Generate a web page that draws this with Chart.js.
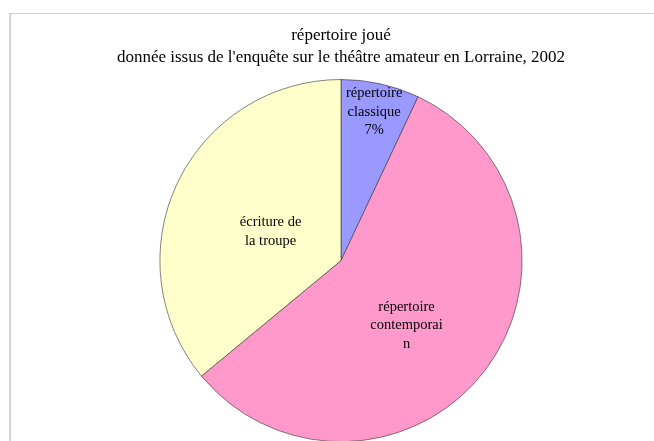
<!DOCTYPE html>
<html>
<head>
<meta charset="utf-8">
<script src="https://cdn.jsdelivr.net/npm/chart.js@4/dist/chart.umd.min.js"></script>
<style>
  html, body { margin: 0; padding: 0; background: #fff; overflow: hidden; }
  #wrap { position: relative; width: 654px; height: 442px; }
  #frame { position: absolute; left: 9px; top: 13px; right: 0; bottom: 0;
           border-top: 1px solid #cfcfcf; border-left: 2px solid #d4d4d4; }
</style>
</head>
<body>
<div id="wrap">
  <div id="frame"></div>
  <canvas id="pieChart"></canvas>
</div>
<script>
// data
var categories = ["répertoire classique", "répertoire contemporain", "écriture de la troupe"];
var shares = [7, 57, 36];
var sliceLabels = [
  ["répertoire", "classique"],
  ["répertoire", "contemporai", "n"],
  ["écriture de", "la troupe"]
];
var showPercent = [true, false, false];
var titleLines = ["répertoire joué", "donnée issus de l'enquête sur le théâtre amateur en Lorraine, 2002"];

var COLORS = {
  blue: "#9999FF",
  pink: "#FF99CC",
  yellow: "#FFFFCC"
};

// where each label sits inside its slice: [fraction of radius, angle nudge in degrees]
var labelPlace = [[0.84, 0], [0.51, 7], [0.42, -3]];

var serif = "'Liberation Serif', 'Times New Roman', Times, serif";

const sliceText = {
  id: "sliceText",
  afterDatasetsDraw(chart) {
    var ctx = chart.ctx;
    var meta = chart.getDatasetMeta(0);
    var total = shares.reduce((a, b) => a + b, 0);
    ctx.save();
    ctx.font = "14.5px " + serif;
    ctx.fillStyle = "#000";
    ctx.textAlign = "center";
    ctx.textBaseline = "middle";
    meta.data.forEach(function (arc, i) {
      var p = arc.getProps(["x", "y", "startAngle", "endAngle", "outerRadius"], true);
      var mid = (p.startAngle + p.endAngle) / 2 + labelPlace[i][1] * Math.PI / 180;
      var r = p.outerRadius * labelPlace[i][0];
      var cx = p.x + Math.cos(mid) * r;
      var cy = p.y + Math.sin(mid) * r;
      var lines = sliceLabels[i].slice();
      if (showPercent[i]) lines.push(Math.round(shares[i] / total * 100) + "%");
      var lh = 18.5;
      var y0 = cy - (lines.length - 1) * lh / 2;
      lines.forEach(function (t, k) { ctx.fillText(t, cx, y0 + k * lh); });
    });
    ctx.restore();
  }
};

const pieChart = new Chart(document.getElementById("pieChart"), {
  type: "pie",
  data: {
    labels: categories,
    datasets: [
      {
        data: shares,
        backgroundColor: [COLORS.blue, COLORS.pink, COLORS.yellow],
        borderColor: "#333",
        borderWidth: 0.6,
        hoverOffset: 0
      }
    ]
  },
  options: {
    responsive: true,
    maintainAspectRatio: false,
    animation: false,
    layout: { padding: { left: 28, right: 0, top: 0, bottom: 0 } },
    plugins: {
      legend: { display: false },
      tooltip: { enabled: false },
      title: {
        display: true,
        text: titleLines,
        color: "#000",
        font: { family: serif, size: 17, weight: "normal", lineHeight: 1.3 },
        padding: { top: 24, bottom: 11 }
      }
    }
  },
  plugins: [sliceText]
});
</script>
</body>
</html>
